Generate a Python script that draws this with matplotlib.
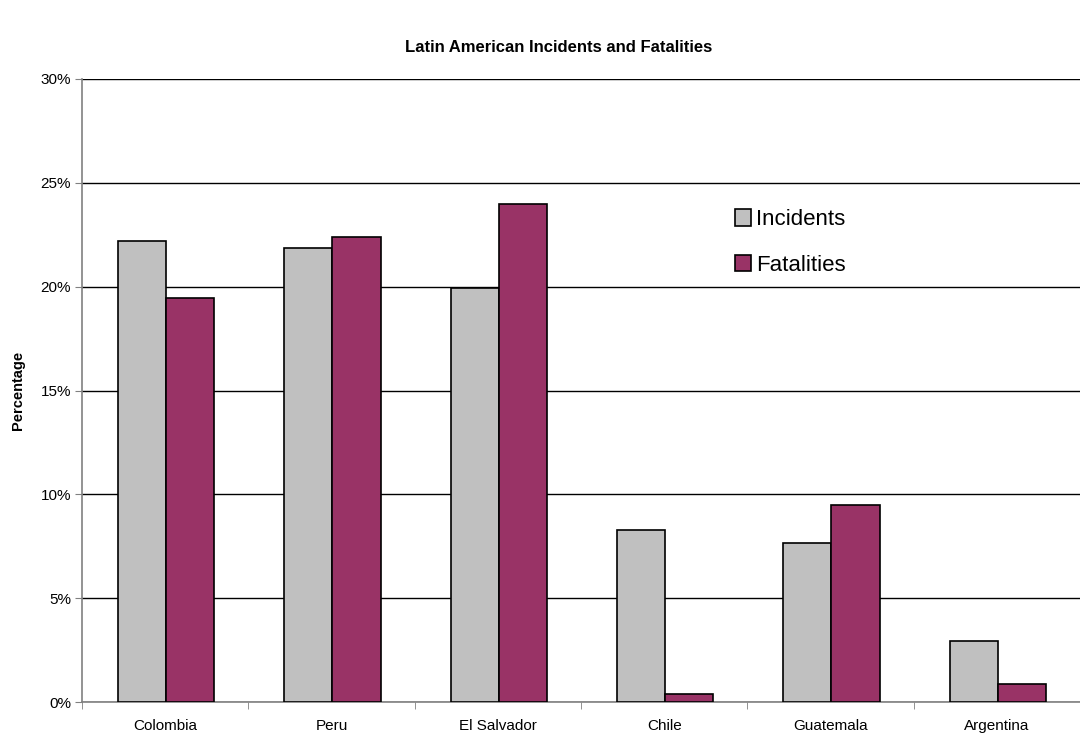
import matplotlib
matplotlib.use("Agg")
import matplotlib.pyplot as plt
import numpy as np
from matplotlib.ticker import FuncFormatter, MultipleLocator

plt.rcParams['font.family'] = ['Liberation Sans', 'DejaVu Sans']

countries = ["Colombia", "Peru", "El Salvador", "Chile", "Guatemala", "Argentina"]
incidents = [22.2, 21.85, 19.95, 8.3, 7.65, 2.95]
fatalities = [19.45, 22.4, 24.0, 0.4, 9.5, 0.87]

fig = plt.figure(figsize=(10.8, 7.36), dpi=100)
ax = fig.add_axes([82 / 1080, 34 / 736, (1080 - 82) / 1080, (702 - 79) / 736])

x = np.arange(len(countries))
w = 0.29
offset = 0.006
ax.bar(x - w / 2 + offset, incidents, w, color="#c0c0c0", edgecolor="black", linewidth=1.2,
       label="Incidents", zorder=3)
ax.bar(x + w / 2 + offset, fatalities, w, color="#993366", edgecolor="black", linewidth=1.2,
       label="Fatalities", zorder=3)

ax.set_xlim(-0.5, len(countries) - 0.5)
ax.set_ylim(0, 30)
ax.yaxis.set_major_locator(MultipleLocator(5))
ax.yaxis.set_major_formatter(FuncFormatter(lambda v, p: f"{v:.0f}%"))
ax.yaxis.grid(True, color="black", linewidth=1.0, zorder=0)
ax.set_axisbelow(True)

ax.set_xticks(x)
ax.set_xticklabels(countries, fontsize=11)
ax.set_xticks(np.arange(len(countries) + 1) - 0.5, minor=True)
ax.tick_params(axis="x", which="major", length=0, pad=12)
ax.tick_params(axis="x", which="minor", length=5, color="#808080")
ax.tick_params(axis="y", length=5, color="#808080", labelsize=11, pad=3)

for s in ("top", "right"):
    ax.spines[s].set_visible(False)
for s in ("left", "bottom"):
    ax.spines[s].set_color("#808080")
    ax.spines[s].set_linewidth(1.2)

ax.set_ylabel("Percentage", fontsize=10.5, fontweight="bold", labelpad=11)
fig.suptitle("Latin American Incidents and Fatalities", fontsize=12, fontweight="bold",
             x=559 / 1080, y=1 - 48 / 736, va="center")

ax.legend(loc="upper left", bbox_to_anchor=(0.645, 0.805), frameon=False, fontsize=16,
          handlelength=0.75, handleheight=0.75, handletextpad=0.2, labelspacing=1.1,
          borderaxespad=0)

fig.savefig("out.png", dpi=100)
